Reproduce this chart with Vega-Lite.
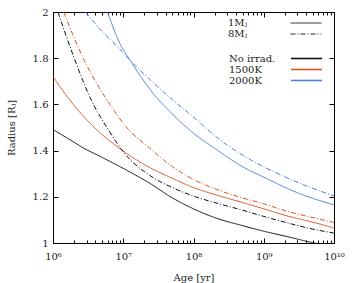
{
  "$schema": "https://vega.github.io/schema/vega-lite/v6.json",
  "autosize": "none",
  "width": 281,
  "height": 231,
  "padding": {"left": 53, "top": 12, "right": 20, "bottom": 40},
  "config": {
    "font": "DejaVu Serif",
    "view": {"stroke": "black", "strokeWidth": 1},
    "axis": {"labelFont": "DejaVu Serif", "titleFont": "DejaVu Serif", "labelFontSize": 10, "titleFontSize": 10, "titleFontWeight": "normal", "labelColor": "#222", "titleColor": "#222", "tickColor": "black", "domain": false, "grid": false},
    "legend": {"labelFont": "DejaVu Serif", "labelFontSize": 10, "labelColor": "#222"}
  },
  "data": {"values": [
    {"age": 1e6, "R": 1.491, "mass": "1Mⱼ", "irr": "No irrad."},
    {"age": 2e6, "R": 1.436, "mass": "1Mⱼ", "irr": "No irrad."},
    {"age": 2.69e6, "R": 1.412, "mass": "1Mⱼ", "irr": "No irrad."},
    {"age": 4.68e6, "R": 1.375, "mass": "1Mⱼ", "irr": "No irrad."},
    {"age": 1e7, "R": 1.323, "mass": "1Mⱼ", "irr": "No irrad."},
    {"age": 2.4e7, "R": 1.258, "mass": "1Mⱼ", "irr": "No irrad."},
    {"age": 5.01e7, "R": 1.195, "mass": "1Mⱼ", "irr": "No irrad."},
    {"age": 1e8, "R": 1.148, "mass": "1Mⱼ", "irr": "No irrad."},
    {"age": 2e8, "R": 1.11, "mass": "1Mⱼ", "irr": "No irrad."},
    {"age": 5.01e8, "R": 1.075, "mass": "1Mⱼ", "irr": "No irrad."},
    {"age": 1e9, "R": 1.051, "mass": "1Mⱼ", "irr": "No irrad."},
    {"age": 2e9, "R": 1.03, "mass": "1Mⱼ", "irr": "No irrad."},
    {"age": 4.27e9, "R": 1.006, "mass": "1Mⱼ", "irr": "No irrad."},
    {"age": 1e10, "R": 0.982, "mass": "1Mⱼ", "irr": "No irrad."},

    {"age": 1e6, "R": 1.721, "mass": "1Mⱼ", "irr": "1500K"},
    {"age": 1.58e6, "R": 1.635, "mass": "1Mⱼ", "irr": "1500K"},
    {"age": 2.69e6, "R": 1.55, "mass": "1Mⱼ", "irr": "1500K"},
    {"age": 3.98e6, "R": 1.497, "mass": "1Mⱼ", "irr": "1500K"},
    {"age": 1e7, "R": 1.398, "mass": "1Mⱼ", "irr": "1500K"},
    {"age": 2.4e7, "R": 1.326, "mass": "1Mⱼ", "irr": "1500K"},
    {"age": 5.01e7, "R": 1.28, "mass": "1Mⱼ", "irr": "1500K"},
    {"age": 1e8, "R": 1.24, "mass": "1Mⱼ", "irr": "1500K"},
    {"age": 2e8, "R": 1.21, "mass": "1Mⱼ", "irr": "1500K"},
    {"age": 5.01e8, "R": 1.175, "mass": "1Mⱼ", "irr": "1500K"},
    {"age": 1e9, "R": 1.148, "mass": "1Mⱼ", "irr": "1500K"},
    {"age": 2e9, "R": 1.12, "mass": "1Mⱼ", "irr": "1500K"},
    {"age": 5.01e9, "R": 1.09, "mass": "1Mⱼ", "irr": "1500K"},
    {"age": 1e10, "R": 1.065, "mass": "1Mⱼ", "irr": "1500K"},

    {"age": 5.97e6, "R": 2.0, "mass": "1Mⱼ", "irr": "2000K"},
    {"age": 8.91e6, "R": 1.865, "mass": "1Mⱼ", "irr": "2000K"},
    {"age": 1.26e7, "R": 1.79, "mass": "1Mⱼ", "irr": "2000K"},
    {"age": 2.4e7, "R": 1.665, "mass": "1Mⱼ", "irr": "2000K"},
    {"age": 5.13e7, "R": 1.555, "mass": "1Mⱼ", "irr": "2000K"},
    {"age": 1e8, "R": 1.475, "mass": "1Mⱼ", "irr": "2000K"},
    {"age": 2e8, "R": 1.41, "mass": "1Mⱼ", "irr": "2000K"},
    {"age": 5.01e8, "R": 1.33, "mass": "1Mⱼ", "irr": "2000K"},
    {"age": 1e9, "R": 1.285, "mass": "1Mⱼ", "irr": "2000K"},
    {"age": 3.16e9, "R": 1.215, "mass": "1Mⱼ", "irr": "2000K"},
    {"age": 1e10, "R": 1.165, "mass": "1Mⱼ", "irr": "2000K"},

    {"age": 1.175e6, "R": 2.0, "mass": "8Mⱼ", "irr": "No irrad."},
    {"age": 1.95e6, "R": 1.81, "mass": "8Mⱼ", "irr": "No irrad."},
    {"age": 3.55e6, "R": 1.615, "mass": "8Mⱼ", "irr": "No irrad."},
    {"age": 5.89e6, "R": 1.499, "mass": "8Mⱼ", "irr": "No irrad."},
    {"age": 1.07e7, "R": 1.384, "mass": "8Mⱼ", "irr": "No irrad."},
    {"age": 2.4e7, "R": 1.292, "mass": "8Mⱼ", "irr": "No irrad."},
    {"age": 5.01e7, "R": 1.24, "mass": "8Mⱼ", "irr": "No irrad."},
    {"age": 1e8, "R": 1.203, "mass": "8Mⱼ", "irr": "No irrad."},
    {"age": 2e8, "R": 1.175, "mass": "8Mⱼ", "irr": "No irrad."},
    {"age": 5.01e8, "R": 1.142, "mass": "8Mⱼ", "irr": "No irrad."},
    {"age": 1e9, "R": 1.115, "mass": "8Mⱼ", "irr": "No irrad."},
    {"age": 2e9, "R": 1.09, "mass": "8Mⱼ", "irr": "No irrad."},
    {"age": 5.01e9, "R": 1.06, "mass": "8Mⱼ", "irr": "No irrad."},
    {"age": 1e10, "R": 1.043, "mass": "8Mⱼ", "irr": "No irrad."},

    {"age": 1.42e6, "R": 2.0, "mass": "8Mⱼ", "irr": "1500K"},
    {"age": 2.69e6, "R": 1.8, "mass": "8Mⱼ", "irr": "1500K"},
    {"age": 6.46e6, "R": 1.6, "mass": "8Mⱼ", "irr": "1500K"},
    {"age": 1.12e7, "R": 1.5, "mass": "8Mⱼ", "irr": "1500K"},
    {"age": 2.4e7, "R": 1.41, "mass": "8Mⱼ", "irr": "1500K"},
    {"age": 5.01e7, "R": 1.33, "mass": "8Mⱼ", "irr": "1500K"},
    {"age": 1e8, "R": 1.275, "mass": "8Mⱼ", "irr": "1500K"},
    {"age": 2e8, "R": 1.235, "mass": "8Mⱼ", "irr": "1500K"},
    {"age": 5.01e8, "R": 1.195, "mass": "8Mⱼ", "irr": "1500K"},
    {"age": 1e9, "R": 1.17, "mass": "8Mⱼ", "irr": "1500K"},
    {"age": 2e9, "R": 1.14, "mass": "8Mⱼ", "irr": "1500K"},
    {"age": 5.01e9, "R": 1.11, "mass": "8Mⱼ", "irr": "1500K"},
    {"age": 1e10, "R": 1.089, "mass": "8Mⱼ", "irr": "1500K"},

    {"age": 2.92e6, "R": 2.0, "mass": "8Mⱼ", "irr": "2000K"},
    {"age": 4.68e6, "R": 1.925, "mass": "8Mⱼ", "irr": "2000K"},
    {"age": 8.13e6, "R": 1.852, "mass": "8Mⱼ", "irr": "2000K"},
    {"age": 1.26e7, "R": 1.79, "mass": "8Mⱼ", "irr": "2000K"},
    {"age": 2.4e7, "R": 1.707, "mass": "8Mⱼ", "irr": "2000K"},
    {"age": 5.01e7, "R": 1.62, "mass": "8Mⱼ", "irr": "2000K"},
    {"age": 1e8, "R": 1.545, "mass": "8Mⱼ", "irr": "2000K"},
    {"age": 2e8, "R": 1.465, "mass": "8Mⱼ", "irr": "2000K"},
    {"age": 5.01e8, "R": 1.38, "mass": "8Mⱼ", "irr": "2000K"},
    {"age": 1e9, "R": 1.33, "mass": "8Mⱼ", "irr": "2000K"},
    {"age": 3.16e9, "R": 1.26, "mass": "8Mⱼ", "irr": "2000K"},
    {"age": 1e10, "R": 1.204, "mass": "8Mⱼ", "irr": "2000K"}
  ]},
  "resolve": {"axis": {"x": "independent", "y": "independent"}},
  "layer": [
    {
      "mark": {"type": "line", "clip": true, "strokeWidth": 1, "interpolate": "monotone"},
      "encoding": {
        "x": {"field": "age", "type": "quantitative",
          "scale": {"type": "log", "domain": [1e6, 1e10], "nice": false},
          "axis": {"orient": "bottom", "title": "Age [yr]", "titlePadding": 9,
            "values": [1e6,2e6,3e6,4e6,5e6,6e6,7e6,8e6,9e6,1e7,2e7,3e7,4e7,5e7,6e7,7e7,8e7,9e7,1e8,2e8,3e8,4e8,5e8,6e8,7e8,8e8,9e8,1e9,2e9,3e9,4e9,5e9,6e9,7e9,8e9,9e9,1e10],
            "labelExpr": "datum.value == 1e6 ? '10⁶' : datum.value == 1e7 ? '10⁷' : datum.value == 1e8 ? '10⁸' : datum.value == 1e9 ? '10⁹' : datum.value == 1e10 ? '10¹⁰' : ''",
            "tickSize": {"condition": {"test": "indexof([1e6,1e7,1e8,1e9,1e10], datum.value) >= 0", "value": -5}, "value": -3},
            "labelPadding": 13, "labelFlush": false, "labelOverlap": false}},
        "y": {"field": "R", "type": "quantitative",
          "scale": {"domain": [1, 2], "nice": false, "zero": false},
          "axis": {"orient": "left", "title": "Radius [Rⱼ]", "values": [1, 1.2, 1.4, 1.6, 1.8, 2], "format": "~g", "tickSize": -5, "labelPadding": 10, "titlePadding": 16}},
        "color": {"field": "irr", "type": "nominal",
          "scale": {"domain": ["No irrad.", "1500K", "2000K"], "range": ["#111111", "#d9541e", "#4a7fe3"]},
          "legend": {"orient": "none", "legendX": 247.5, "legendY": 40.5, "title": null, "symbolType": "M-3.1,0H3.1", "symbolSize": 100, "symbolStrokeWidth": 1.6, "labelAlign": "left", "labelOffset": -83.5, "rowPadding": 0}},
        "strokeDash": {"field": "mass", "type": "nominal",
          "scale": {"domain": ["1Mⱼ", "8Mⱼ"], "range": [[1, 0], [5, 2, 1, 2]]},
          "legend": {"orient": "none", "legendX": 247.5, "legendY": 5.5, "title": null, "symbolType": "M-3.1,0H3.1", "symbolSize": 100, "symbolStrokeWidth": 1, "symbolStrokeColor": "#222", "labelAlign": "left", "labelOffset": -83.5, "rowPadding": 0}}
      }
    },
    {
      "mark": {"type": "line", "opacity": 0, "clip": true},
      "encoding": {
        "x": {"field": "age", "type": "quantitative",
          "axis": {"orient": "top", "title": null, "labels": false,
            "values": [1e6,2e6,3e6,4e6,5e6,6e6,7e6,8e6,9e6,1e7,2e7,3e7,4e7,5e7,6e7,7e7,8e7,9e7,1e8,2e8,3e8,4e8,5e8,6e8,7e8,8e8,9e8,1e9,2e9,3e9,4e9,5e9,6e9,7e9,8e9,9e9,1e10],
            "tickSize": {"condition": {"test": "indexof([1e6,1e7,1e8,1e9,1e10], datum.value) >= 0", "value": -5}, "value": -3}}},
        "y": {"field": "R", "type": "quantitative",
          "axis": {"orient": "right", "title": null, "labels": false, "values": [1, 1.2, 1.4, 1.6, 1.8, 2], "tickSize": -5}}
      }
    }
  ]
}
